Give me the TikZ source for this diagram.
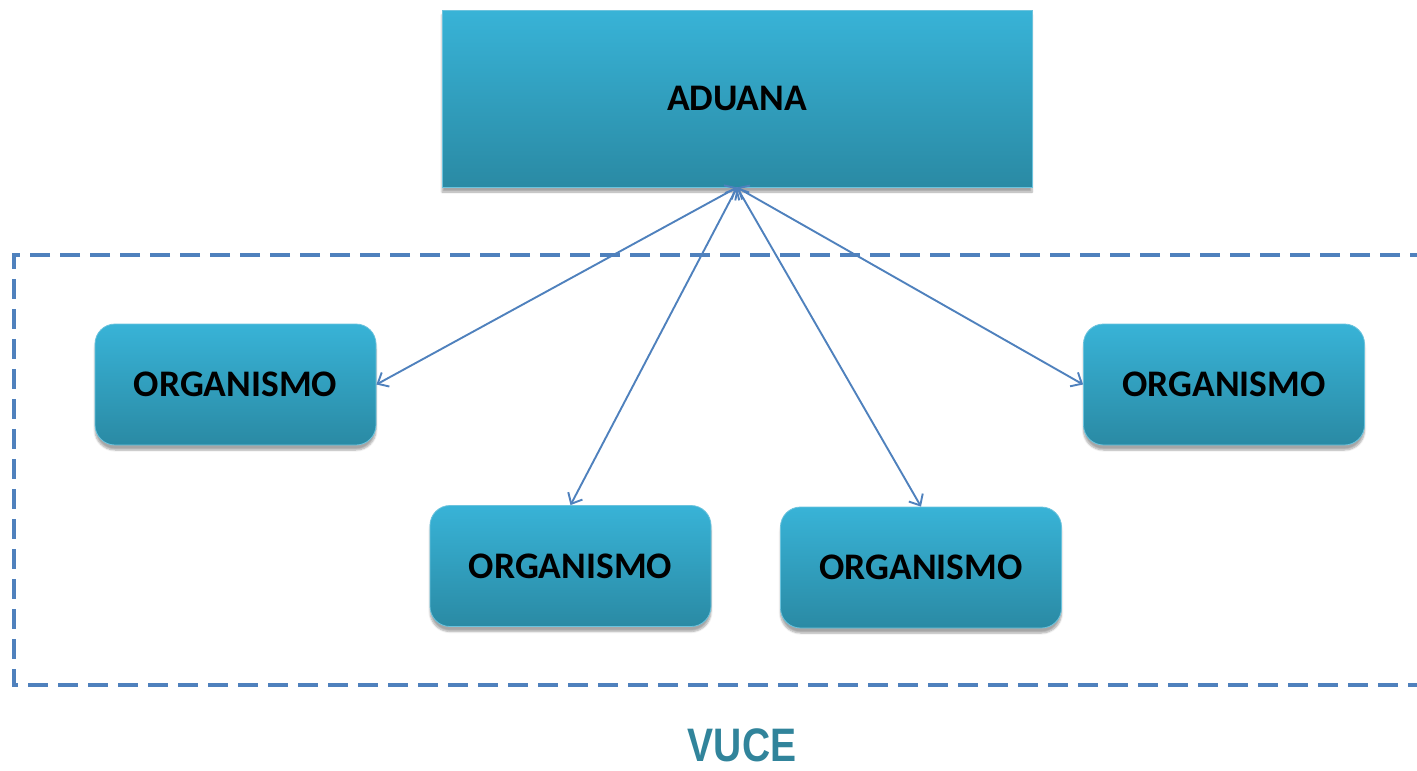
\documentclass[tikz,border=0pt]{standalone}
\usepackage{fontspec}
\setmainfont{Carlito}
\newfontfamily\vucefont{Liberation Sans}
\usetikzlibrary{arrows.meta,shadows.blur}
\definecolor{gtop}{HTML}{38B3D7}
\definecolor{gbot}{HTML}{2A8AA4}
\definecolor{linkblue}{HTML}{4F81BD}
\definecolor{vuceteal}{HTML}{31849B}
\definecolor{edgeblue}{HTML}{6CC3DD}
\tikzset{
  base/.style={top color=gtop, bottom color=gbot, draw=edgeblue, line width=0.8pt,
    font=\bfseries\fontsize{37.5}{37.5}\selectfont, text=black,
    blur shadow={shadow xshift=0pt, shadow yshift=-5pt, shadow blur steps=6, shadow opacity=35}},
  topbox/.style={base, minimum width=590pt, minimum height=177pt, inner sep=0pt},
  orgbox/.style={base, rounded corners=20pt, minimum width=281pt, minimum height=121pt, inner sep=0pt},
  link/.style={draw=linkblue, line width=1.9pt, {Straight Barb[length=9pt,width=16pt]}-{Straight Barb[length=9pt,width=16pt]}},
  frame/.style={draw=linkblue, line width=4.5pt, dash pattern=on 20pt off 10pt}
}
\begin{document}
\begin{tikzpicture}[x=1pt,y=-1pt]
\useasboundingbox (0,0) rectangle (1417,771);
\draw[frame] (1430,255) -- (14,255) -- (14,685) -- (1430,685);
\node[topbox] (ad) at (737,98.5) {ADUANA};
\node[orgbox] (o1) at (235.5,384.5) {ORGANISMO};
\node[orgbox] (o2) at (570.5,566) {ORGANISMO};
\node[orgbox] (o3) at (921,567.5) {ORGANISMO};
\node[orgbox] (o4) at (1224,384.5) {ORGANISMO};
\draw[link] (ad.south) -- (o1.east);
\draw[link] (ad.south) -- (o2.north);
\draw[link] (ad.south) -- (o3.north);
\draw[link] (ad.south) -- (o4.west);
\node[text=vuceteal, font=\vucefont\bfseries\fontsize{47}{47}\selectfont, xscale=0.83, inner sep=0pt, anchor=base] (vuce) at (742,761) {VUCE};
\end{tikzpicture}
\end{document}
